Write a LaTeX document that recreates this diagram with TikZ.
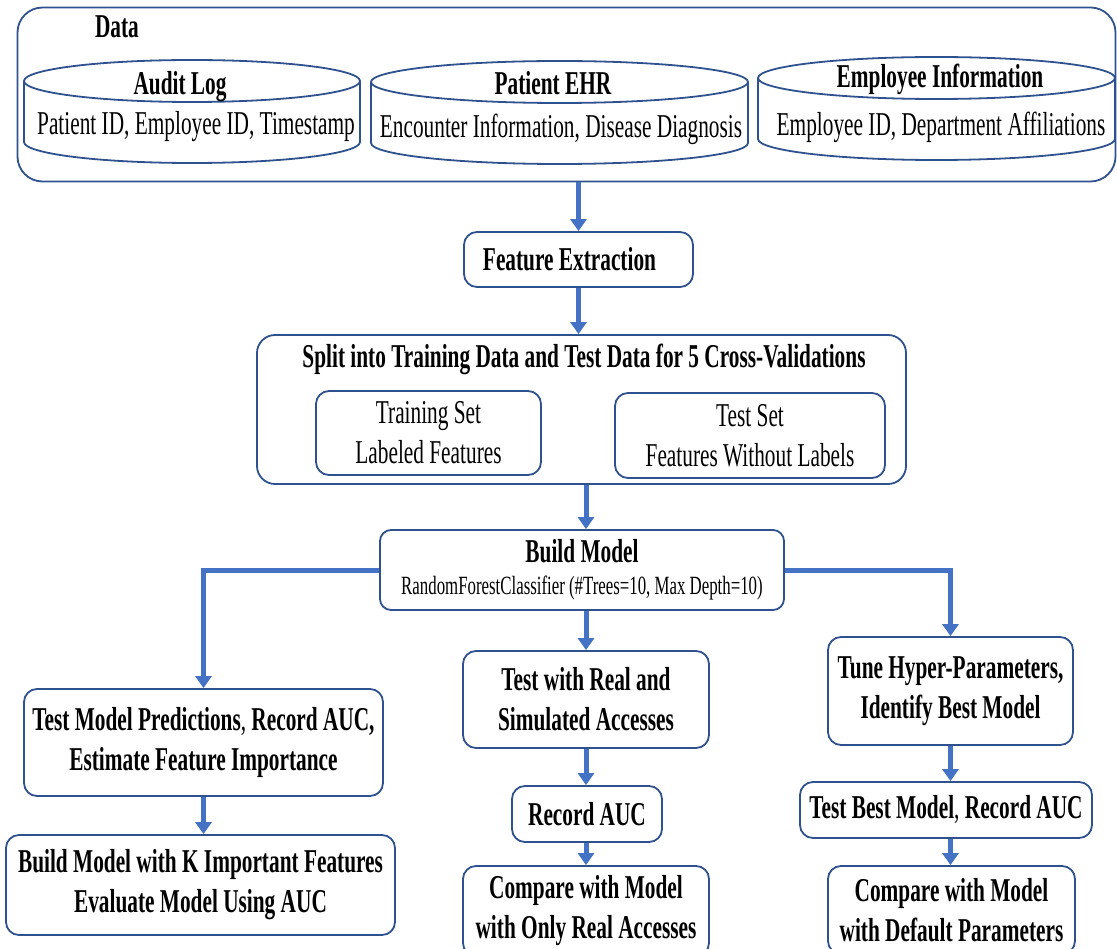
\documentclass[tikz,border=0pt]{standalone}
\usepackage{fontspec}
\setmainfont{Liberation Serif}[FakeStretch=0.64]
\usetikzlibrary{arrows.meta,positioning}
\definecolor{boxline}{HTML}{2F528F}
\definecolor{flow}{HTML}{4472C4}
\tikzset{
  stepbox/.style = { draw=boxline, line width=1.8pt, rounded corners=13pt, align=center, inner sep=0pt },
  group/.style   = { draw=boxline, line width=1.8pt, rounded corners=25pt, inner sep=0pt },
  drum/.style    = { draw=boxline, line width=1.8pt },
  flowline/.style = { draw=flow, line width=5pt, -{Triangle[length=12pt,width=16pt]} },
  heading/.style = { font=\bfseries\fontsize{33.3}{40}\selectfont, align=center },
  plain/.style   = { font=\fontsize{33.3}{40}\selectfont, align=center }
}
% database drum: left, right, top, bottom
\newcommand{\drum}[4]{%
  \draw[drum] ({(#1+#2)/2},{#3+21}) ellipse [x radius={(#2-#1)/2*1pt}, y radius=21pt];
  \draw[drum] (#1,{#3+21}) -- (#1,{#4-21})
     arc [start angle=180, end angle=360, x radius={(#2-#1)/2*1pt}, y radius=21pt]
     -- (#2,{#3+21});
}

\begin{document}
\begin{tikzpicture}[x=1pt,y=-1pt]
  \useasboundingbox (0,0) rectangle (1117,949);

  % Data sources
  \node[group, minimum width=1098pt, minimum height=174pt] (data) at (566.5,94.5) {};
  \node[heading] (datatitle) at (117,27) {Data};

  \drum{24}{360}{60}{163}
  \drum{371}{748}{61}{164}
  \drum{758}{1115}{57}{160}
  \node[heading] (audit)    at (180,87)  {Audit Log};
  \node[plain]   (auditinf) at (196,127) {Patient ID, Employee ID, Timestamp};
  \node[heading] (ehr)      at (553,83)  {Patient EHR};
  \node[plain]   (ehrinf)   at (561,129) {Encounter Information, Disease Diagnosis};
  \node[heading] (emp)      at (940,79)  {Employee Information};
  \node[plain]   (empinf)   at (941,127) {Employee ID, Department Affiliations};

  % Feature extraction and split
  \node[stepbox, heading, minimum width=229pt, minimum height=55pt] (fe) at (578.5,259.5)
       {Feature Extraction\hspace{18pt}};
  \node[group, rounded corners=18pt, minimum width=649pt, minimum height=149pt] (split) at (581.5,409.5) {};
  \node[heading] (splittitle) at (584,359) {Split into Training Data and Test Data for 5 Cross-Validations};
  \node[stepbox, plain, minimum width=225pt, minimum height=84pt] (train) at (428.5,433)
       {Training Set\\Labeled Features};
  \node[stepbox, plain, minimum width=270pt, minimum height=85pt] (test) at (750,435.5)
       {Test Set\\Features Without Labels};

  % Build model
  \node[stepbox, rounded corners=11pt, minimum width=404pt, minimum height=80pt] (build) at (582,570)
       {{\bfseries\fontsize{33.3}{36}\selectfont Build Model}\\[12pt]
        {\fontsize{26.3}{30}\selectfont RandomForestClassifier (\#Trees=10, Max Depth=10)}};

  % Left branch
  \node[stepbox, heading, minimum width=359pt, minimum height=107pt] (left1) at (203.5,742.5)
       {Test Model Predictions\textmd{,} Record AUC,\\Estimate Feature Importance};
  \node[stepbox, heading, minimum width=389pt, minimum height=100pt] (left2) at (200.5,885)
       {Build Model with K Important Features\\Evaluate Model Using AUC};

  % Middle branch
  \node[stepbox, heading, minimum width=246pt, minimum height=97pt] (mid1) at (586,699.5)
       {Test with Real and\\Simulated Accesses};
  \node[stepbox, heading, minimum width=150pt, minimum height=56pt] (mid2) at (587,814)
       {Record AUC};
  \node[stepbox, heading, minimum width=246pt, minimum height=90pt] (mid3) at (586,911)
       {Compare with Model\\with Only Real Accesses};

  % Right branch
  \node[stepbox, heading, minimum width=245pt, minimum height=108pt] (right1) at (950.5,691)
       {Tune Hyper-Parameters,\\Identify Best Model};
  \node[stepbox, heading, minimum width=292pt, minimum height=56pt] (right2) at (946,810)
       {Test Best Model\textmd{,} Record AUC};
  \node[stepbox, heading, minimum width=247pt, minimum height=88pt] (right3) at (951.5,910)
       {Compare with Model\\with Default Parameters};

  % Draw connections
  \draw[flowline] (data.south -| fe.north) -- (fe.north);
  \draw[flowline] (fe.south) -- (fe.south |- split.north);
  \draw[flowline] ([xshift=4pt]build.north |- split.south) -- ([xshift=4pt]build.north);
  \draw[flowline] (mid1.north |- build.south) -- (mid1.north);
  \draw[flowline] (build.west) -| (left1.north);
  \draw[flowline] (build.east) -| (right1.north);
  \draw[flowline] (left1.south) -- (left1.south |- left2.north);
  \draw[flowline] (mid1.south) -- (mid1.south |- mid2.north);
  \draw[flowline] (mid1.south |- mid2.south) -- (mid1.south |- mid3.north);
  \draw[flowline] (right1.south) -- (right1.south |- right2.north);
  \draw[flowline] (right1.south |- right2.south) -- (right1.south |- right3.north);
\end{tikzpicture}
\end{document}
